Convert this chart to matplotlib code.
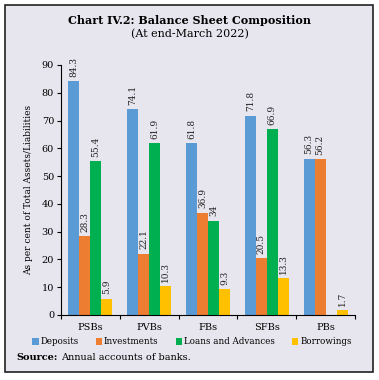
import numpy as np
import matplotlib.pyplot as plt
from matplotlib.patches import Rectangle

categories = ['PSBs', 'PVBs', 'FBs', 'SFBs', 'PBs']
deposits = [84.3, 74.1, 61.8, 71.8, 56.3]
investments = [28.3, 22.1, 36.9, 20.5, 56.2]
loans = [55.4, 61.9, 34, 66.9, np.nan]
borrowings = [5.9, 10.3, 9.3, 13.3, 1.7]

series = [('Deposits', deposits, '#5b9bd5'),
          ('Investments', investments, '#ed7d31'),
          ('Loans and Advances', loans, '#00b050'),
          ('Borrowings', borrowings, '#ffc000')]

plt.rcParams['font.family'] = ['DejaVu Serif']
bg = '#e7e6ee'

fig = plt.figure(figsize=(3.79, 3.80), dpi=100)
fig.patch.set_facecolor('white')
fig.patches.append(Rectangle((5/379, 8/380), 368/379, 367/380, transform=fig.transFigure,
                             facecolor=bg, edgecolor='#222222', linewidth=1.2, zorder=-10))

ax = fig.add_axes([61/379, 65/380, 294/379, 250/380])
ax.set_facecolor(bg)

x = np.arange(len(categories))
w = 0.187
for i, (name, vals, col) in enumerate(series):
    pos = x + (i - 1.5) * w
    ax.bar(pos, vals, w, color=col, label=name)
    for p, v in zip(pos, vals):
        if np.isnan(v):
            continue
        ax.text(p, v + 1.5, f'{v:g}', rotation=90, ha='center', va='bottom',
                fontsize=6.5, color='#222222')

ax.set_xlim(-0.5, len(categories) - 0.5)
ax.set_ylim(0, 90)
ax.set_yticks(np.arange(0, 91, 10))
ax.set_xticks(x)
ax.set_xticklabels(categories)
ax.set_xticks(np.arange(-0.5, len(categories)), minor=True)
ax.tick_params(axis='x', which='major', length=0, pad=6, labelsize=7)
ax.tick_params(axis='x', which='minor', length=3, direction='out', width=0.8)
ax.tick_params(axis='y', length=3, width=0.8, labelsize=7, pad=2)
for s in ['top', 'right']:
    ax.spines[s].set_visible(False)
for s in ['left', 'bottom']:
    ax.spines[s].set_linewidth(0.8)
ax.set_ylabel('As per cent of Total Assets/Liabilities', fontsize=6.5, labelpad=6)

fig.legend(loc='center', bbox_to_anchor=(192/379, 1 - 342/380), ncol=4,
           frameon=False, fontsize=6.3, handlelength=0.7, handleheight=0.7,
           handletextpad=0.2, columnspacing=2.0)

fig.text(0.5, 1 - 20/380, 'Chart IV.2: Balance Sheet Composition', ha='center', va='center',
         fontsize=8, fontweight='bold')
fig.text(0.5, 1 - 34/380, '(At end-March 2022)', ha='center', va='center', fontsize=8)
fig.text(16/379, 1 - 358/380, 'Source:', ha='left', va='center', fontsize=7, fontweight='bold')
fig.text(61/379, 1 - 358/380, 'Annual accounts of banks.', ha='left', va='center', fontsize=7)

fig.savefig('out.png', dpi=100, facecolor='white')
